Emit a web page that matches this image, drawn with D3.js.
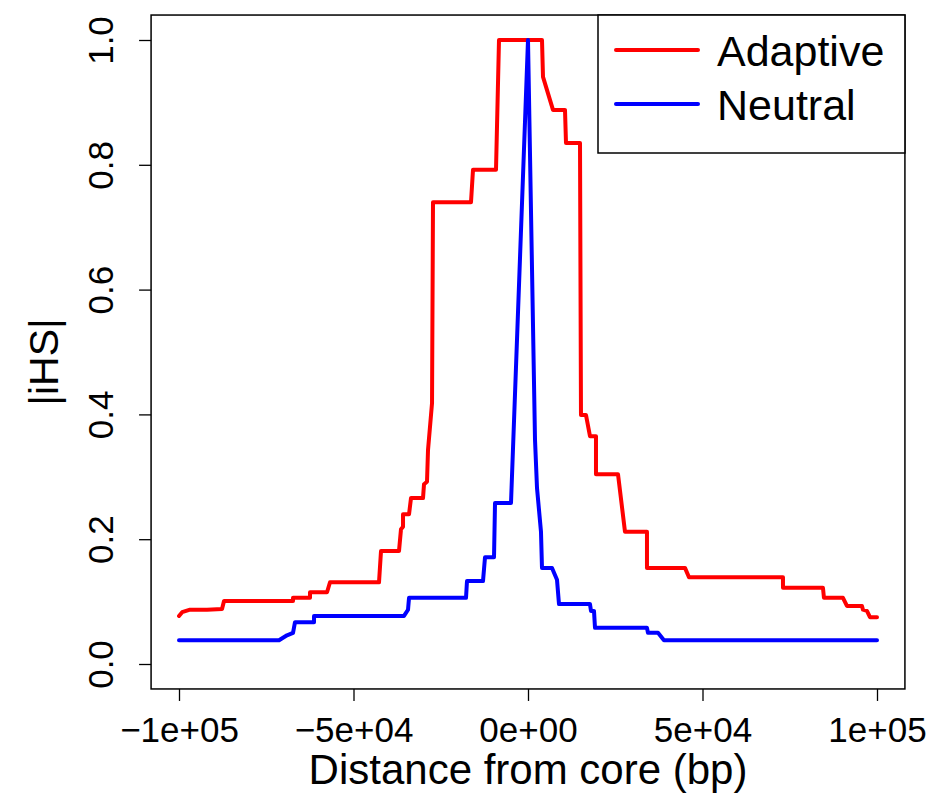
<!DOCTYPE html>
<html>
<head>
<meta charset="utf-8">
<script src="https://cdn.jsdelivr.net/npm/d3@7/dist/d3.min.js"></script>
<style>
  html, body { margin: 0; padding: 0; background: #fff; }
  svg { display: block; }
  text { font-family: "Liberation Sans", Arial, Helvetica, sans-serif; fill: #000; }
</style>
</head>
<body>
<svg id="chart" width="938" height="795"></svg>
<script>
// ---- data ----
const adaptiveX = [-100000, -99100, -96840, -91970, -87670, -87100, -67330, -67330, -62460, -62460, -57590, -56730, -42690, -42120, -36960, -36390, -35810, -35810, -34090, -33520, -30080, -29800, -28940, -28650, -27500, -27220, -16330, -15760, -9170, -8310, 4010, 4300, 7160, 10600, 10890, 14900, 15180, 16620, 17760, 19480, 19480, 25790, 27790, 34090, 34090, 44980, 46130, 73060, 73060, 84520, 84800, 90250, 91390, 95690, 95980, 97120, 97980, 100000];
const adaptiveY = [0.077, 0.083, 0.087, 0.087, 0.088, 0.101, 0.101, 0.106, 0.106, 0.115, 0.115, 0.131, 0.131, 0.181, 0.181, 0.216, 0.220, 0.240, 0.240, 0.266, 0.266, 0.288, 0.292, 0.343, 0.418, 0.740, 0.740, 0.792, 0.792, 1.000, 1.000, 0.941, 0.888, 0.888, 0.835, 0.835, 0.399, 0.399, 0.365, 0.365, 0.304, 0.304, 0.212, 0.212, 0.154, 0.154, 0.139, 0.139, 0.122, 0.122, 0.106, 0.106, 0.093, 0.093, 0.087, 0.085, 0.075, 0.075];

const neutralX = [-100000, -71340, -69050, -67330, -66760, -61310, -61310, -35530, -34380, -34090, -17760, -17480, -12890, -12320, -9740, -9450, -4870, 0, 2010, 2580, 3720, 4010, 6880, 8310, 8880, 17760, 18050, 18910, 19200, 34090, 34380, 37250, 38960, 100000];
const neutralY = [0.038, 0.038, 0.046, 0.050, 0.067, 0.067, 0.077, 0.077, 0.087, 0.106, 0.106, 0.133, 0.133, 0.171, 0.171, 0.258, 0.258, 1.000, 0.359, 0.282, 0.212, 0.154, 0.154, 0.135, 0.096, 0.096, 0.085, 0.085, 0.058, 0.058, 0.050, 0.050, 0.038, 0.038];

const xTickValues = [-100000, -50000, 0, 50000, 100000];
const xTickLabels = ["\u22121e+05", "\u22125e+04", "0e+00", "5e+04", "1e+05"];
const yTickValues = [0, 0.2, 0.4, 0.6, 0.8, 1.0];
const yTickLabels = ["0.0", "0.2", "0.4", "0.6", "0.8", "1.0"];

const seriesNames = ["Adaptive", "Neutral"];
const seriesColors = ["#ff0000", "#0000ff"];

// ---- drawing ----
const svg = d3.select("#chart");
const x = d3.scaleLinear().domain([-100000, 100000]).range([179, 877]);
const y = d3.scaleLinear().domain([0, 1]).range([664, 40]);

const x0 = x(-108000), x1 = x(108000);
const y0 = y(-0.04), y1 = y(1.04);

// series lines
const line = d3.line().x(d => x(d[0])).y(d => y(d[1]));
const series = [
  d3.zip(adaptiveX, adaptiveY),
  d3.zip(neutralX, neutralY)
];
series.forEach((s, i) => {
  svg.append("path").datum(s).attr("d", line)
    .attr("fill", "none").attr("stroke", seriesColors[i]).attr("stroke-width", 4)
    .attr("stroke-linejoin", "round").attr("stroke-linecap", "round");
});

// box
svg.append("rect").attr("x", x0).attr("y", y1).attr("width", x1 - x0).attr("height", y0 - y1)
  .attr("fill", "none").attr("stroke", "#000").attr("stroke-width", 1.5);

// x axis
const xAxis = d3.axisBottom(x).tickValues(xTickValues)
  .tickFormat((d, i) => xTickLabels[i]).tickSize(12).tickPadding(6);
const gx = svg.append("g").attr("transform", `translate(0,${y0})`).call(xAxis);
gx.select(".domain").remove();
gx.selectAll(".tick line").attr("stroke", "#000").attr("stroke-width", 1.3);
gx.selectAll(".tick text").attr("font-size", 35).attr("dy", null).attr("y", 53)
  .attr("font-family", "'Liberation Sans', Arial, sans-serif");

// y axis
const yAxis = d3.axisLeft(y).tickValues(yTickValues)
  .tickFormat((d, i) => yTickLabels[i]).tickSize(12).tickPadding(6);
const gy = svg.append("g").attr("transform", `translate(${x0},0)`).call(yAxis);
gy.select(".domain").remove();
gy.selectAll(".tick line").attr("stroke", "#000").attr("stroke-width", 1.3);
gy.selectAll(".tick text")
  .attr("font-size", 35).attr("x", null).attr("dy", null)
  .attr("text-anchor", "middle")
  .attr("font-family", "'Liberation Sans', Arial, sans-serif")
  .attr("transform", `translate(${113 - x0},0) rotate(-90)`);

// axis titles
svg.append("text").attr("x", (x0 + x1) / 2).attr("y", 784).attr("text-anchor", "middle")
  .attr("font-size", 42).text("Distance from core (bp)");
svg.append("text").attr("transform", `translate(58,${(y0 + y1) / 2 + 10}) rotate(-90)`)
  .attr("text-anchor", "middle").attr("font-size", 41).text("|iHS|");

// legend
const lg = svg.append("g");
lg.append("rect").attr("x", 598).attr("y", y1).attr("width", x1 - 598).attr("height", 153 - y1)
  .attr("fill", "#fff").attr("stroke", "#000").attr("stroke-width", 1.5);
seriesNames.forEach((name, i) => {
  const ly = 50 + i * 54;
  lg.append("line").attr("x1", 616).attr("x2", 698).attr("y1", ly).attr("y2", ly)
    .attr("stroke", seriesColors[i]).attr("stroke-width", 4).attr("stroke-linecap", "round");
  lg.append("text").attr("x", 717).attr("y", ly + 16).attr("font-size", 43).text(name);
});
</script>
</body>
</html>
